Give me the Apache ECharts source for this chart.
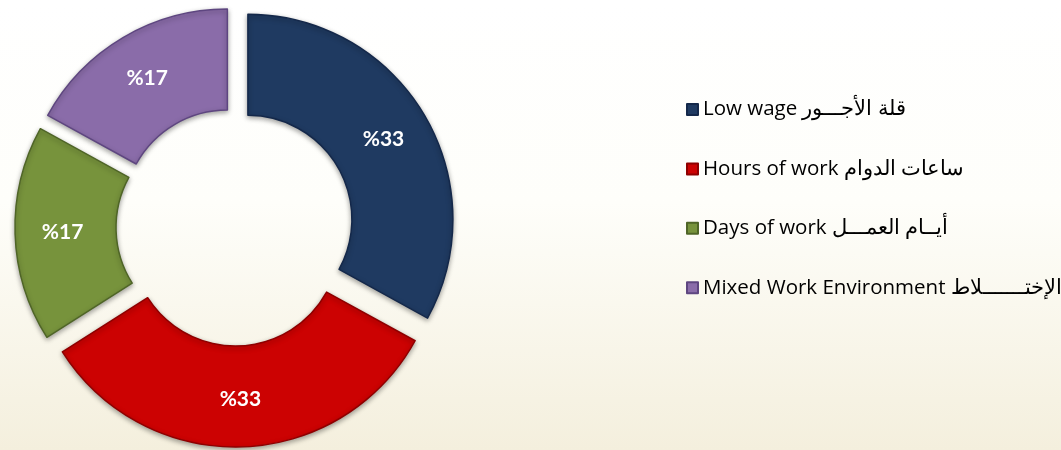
<!DOCTYPE html>
<html>
<head>
<meta charset="utf-8">
<script src="https://cdn.jsdelivr.net/npm/echarts@6/dist/echarts.min.js"></script>
<style>
  html, body { margin: 0; padding: 0; }
  #chart { width: 1061px; height: 450px; }
</style>
</head>
<body>
<div id="chart"></div>
<script>
// 数据
const categories = [
  'Low wage قلة الأجـــور',
  'Hours of work ساعات الدوام',
  'Days of work أيــام العمـــل',
  'Mixed Work Environment الإختـــــــلاط'
];
const shares = [33, 33, 17, 17];
const colors = ['#1f3a61', '#cc0202', '#77933c', '#8a6ca9'];
const edges = ['#14284a', '#8e0000', '#4f6527', '#5e4680'];

const chart = echarts.init(document.getElementById('chart'));
chart.setOption({
  backgroundColor: {
    type: 'linear', x: 0, y: 0, x2: 0, y2: 1,
    colorStops: [
      { offset: 0, color: '#ffffff' },
      { offset: 0.45, color: '#fefefa' },
      { offset: 1, color: '#f4efdd' }
    ]
  },
  animation: false,
  legend: {
    orient: 'vertical',
    left: 681,
    top: 94,
    itemGap: 38.4,
    icon: 'rect',
    itemWidth: 11,
    itemHeight: 11,
    selectedMode: false,
    textStyle: { fontFamily: 'Open Sans', fontSize: 20.5, lineHeight: 20, color: '#000' },
    data: categories
  },
  series: [{
    type: 'pie',
    center: [235, 227],
    radius: [104, 205],
    startAngle: 90,
    selectedMode: 'multiple',
    selectedOffset: 15,
    label: {
      position: 'inside',
      formatter: p => '%' + p.value,
      color: '#fff',
      fontFamily: 'Lato',
      fontWeight: 'bold',
      fontSize: 21
    },
    labelLine: { show: false },
    emphasis: { disabled: true },
    data: categories.map((name, i) => ({
      name: name,
      value: shares[i],
      selected: true,
      itemStyle: {
        color: colors[i],
        borderColor: edges[i],
        borderWidth: 1.5,
        shadowBlur: 5,
        shadowOffsetY: 2,
        shadowColor: 'rgba(0,0,0,0.35)'
      },
      select: {
        itemStyle: {
          color: colors[i],
          borderColor: edges[i],
          borderWidth: 1.5,
          shadowBlur: 5,
          shadowOffsetY: 2,
          shadowColor: 'rgba(0,0,0,0.35)'
        }
      }
    }))
  }]
});
</script>
</body>
</html>
